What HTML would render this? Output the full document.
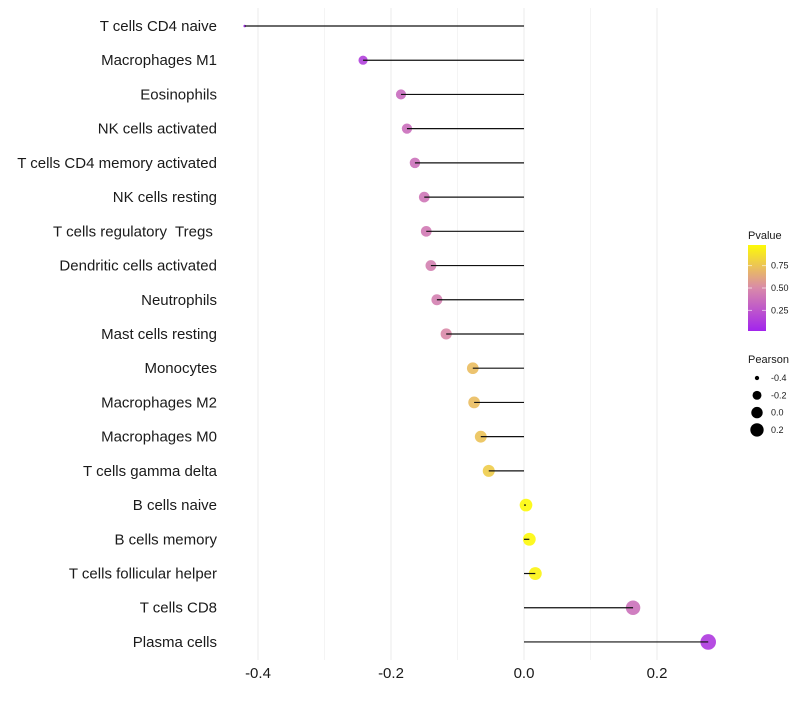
<!DOCTYPE html>
<html><head><meta charset="utf-8"><style>
body{margin:0;background:#fff}
svg{font-family:"Liberation Sans",sans-serif}
text{white-space:pre}
</style></head><body>
<svg id="c" width="800" height="700"></svg>
<script>
const categories=["T cells CD4 naive","Macrophages M1","Eosinophils","NK cells activated","T cells CD4 memory activated","NK cells resting","T cells regulatory  Tregs ","Dendritic cells activated","Neutrophils","Mast cells resting","Monocytes","Macrophages M2","Macrophages M0","T cells gamma delta","B cells naive","B cells memory","T cells follicular helper","T cells CD8","Plasma cells"];
const pearson=[-0.42,-0.242,-0.185,-0.176,-0.164,-0.150,-0.147,-0.140,-0.131,-0.117,-0.077,-0.075,-0.065,-0.053,0.003,0.008,0.017,0.164,0.277];
const pvalue=[0.02,0.15,0.35,0.37,0.38,0.40,0.42,0.45,0.45,0.50,0.72,0.72,0.74,0.78,0.98,0.97,0.95,0.38,0.12];
const xTicks=[-0.4,-0.2,0.0,0.2];
const xMinor=[-0.3,-0.1,0.1];
const pTicks=[0.25,0.50,0.75];
const sizeTicks=[-0.4,-0.2,0.0,0.2];

const NS="http://www.w3.org/2000/svg";
const svg=document.getElementById('c');
function mk(t,a,p){const e=document.createElementNS(NS,t);for(const k in a)e.setAttribute(k,a[k]);(p||svg).appendChild(e);return e;}
const xs=v=>524+v*665;
const ys=i=>26+i*34.22;
const rs=v=>1.3+6.5*Math.sqrt(Math.max(0,v+0.42)/0.7);
function col(p){
  const stops=[[0,[160,32,240]],[0.5,[217,138,169]],[1,[255,255,0]]];
  let a=stops[0],b=stops[1];if(p>0.5){a=stops[1];b=stops[2];}
  const t=(p-a[0])/(b[0]-a[0]);
  const c=a[1].map((v,k)=>Math.round(v+(b[1][k]-v)*t));
  return `rgb(${c.join(',')})`;
}
const yTop=8,yBot=660;
xMinor.forEach(v=>{const l=mk('line',{x1:xs(v),x2:xs(v),y1:yTop,y2:yBot,stroke:'#f4f4f4','stroke-width':1});

});
xTicks.forEach(v=>{const l=mk('line',{x1:xs(v),x2:xs(v),y1:yTop,y2:yBot,stroke:'#ebebeb','stroke-width':1});


const t=mk('text',{x:xs(v),y:678,'text-anchor':'middle','font-size':15,fill:'#1a1a1a'});t.textContent=v.toFixed(1);

});
categories.forEach((c,i)=>{
  const t=mk('text',{x:217,y:ys(i)+5,'text-anchor':'end','font-size':15,fill:'#1a1a1a'});t.textContent=c;
  
  
  const d=mk('circle',{cx:xs(pearson[i]),cy:ys(i),r:rs(pearson[i]),fill:col(pvalue[i]),'fill-opacity':0.9});
  
  
  const l=mk('line',{x1:xs(pearson[i]),x2:xs(0),y1:ys(i),y2:ys(i),stroke:'#111','stroke-width':1.2});
  
  
});
let tt=mk('text',{x:748,y:239,'font-size':11,fill:'#1a1a1a'});tt.textContent='Pvalue';


const defs=mk('defs',{});const g=mk('linearGradient',{id:'pg',x1:0,y1:1,x2:0,y2:0},defs);
[0,0.25,0.5,0.75,1].forEach(s=>mk('stop',{offset:s,'stop-color':col(0.02+s*0.96)},g));
const cb=mk('rect',{x:748,y:245,width:18,height:86,fill:'url(#pg)'});


const py=p=>331-(p-0.02)/0.96*86;
pTicks.forEach(p=>{mk('line',{x1:748,x2:752,y1:py(p),y2:py(p),stroke:'#fff','stroke-opacity':0.6});mk('line',{x1:762,x2:766,y1:py(p),y2:py(p),stroke:'#fff','stroke-opacity':0.6});
const t=mk('text',{x:771,y:py(p)+3,'font-size':9,fill:'#1a1a1a'});t.textContent=p.toFixed(2);

});
tt=mk('text',{x:748,y:363,'font-size':11,fill:'#1a1a1a'});tt.textContent='Pearson';


sizeTicks.forEach((v,i)=>{const cy=378+i*17.3;
const c=mk('circle',{cx:757,cy:cy,r:rs(v)*0.9,fill:'#000'});


const t=mk('text',{x:771,y:cy+3,'font-size':9,fill:'#1a1a1a'});t.textContent=v.toFixed(1);

});
</script>
</body></html>
